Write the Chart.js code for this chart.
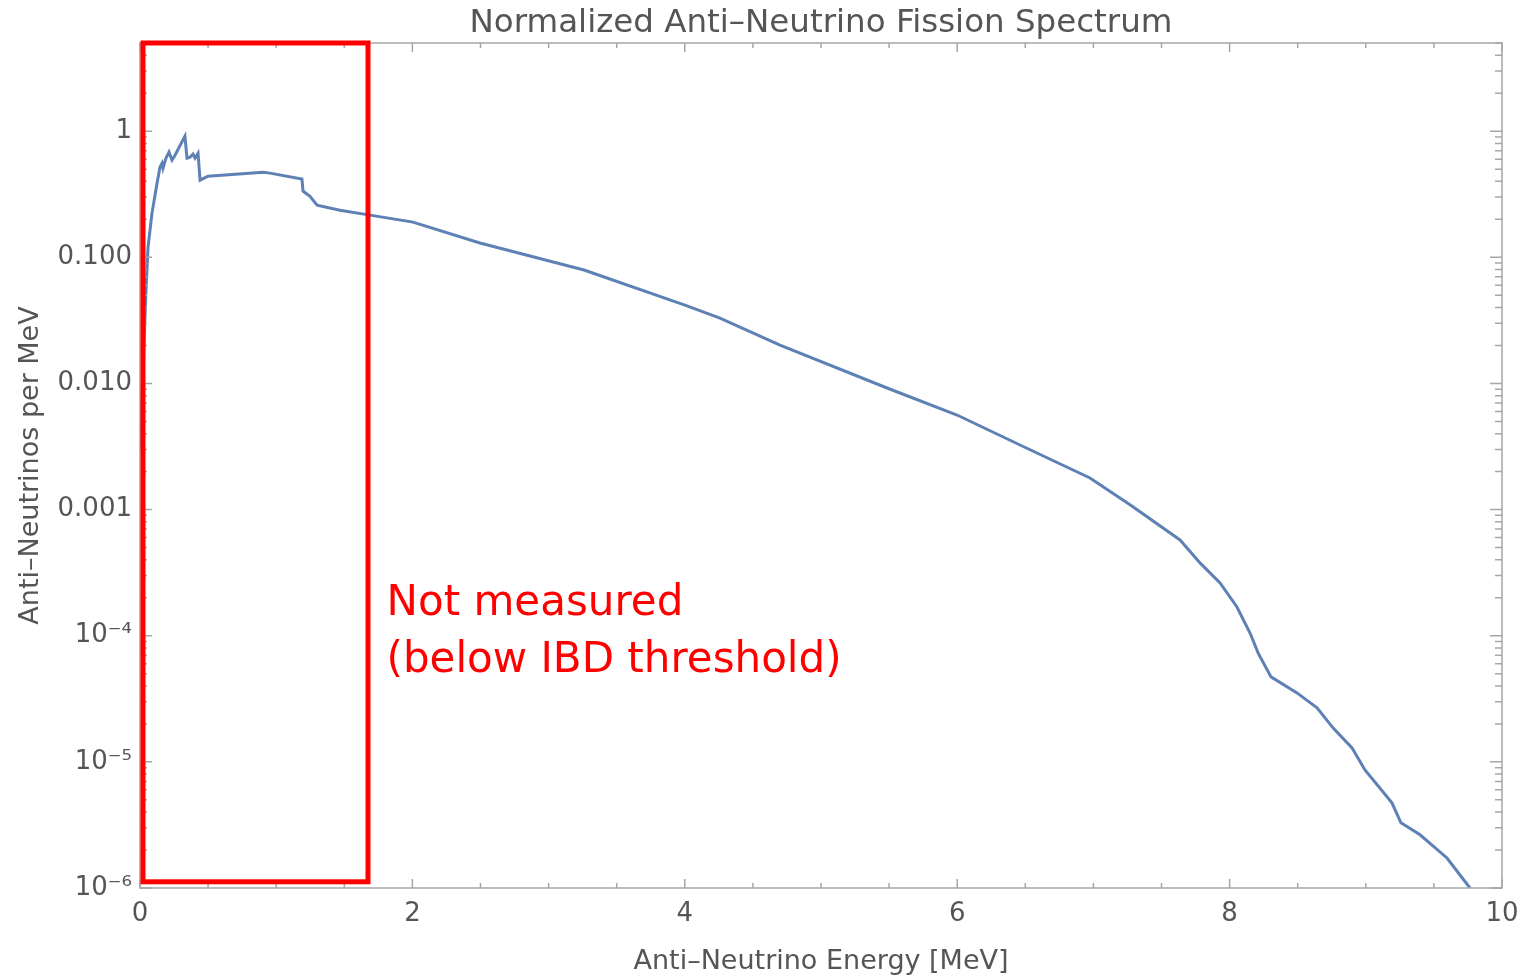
<!DOCTYPE html>
<html>
<head>
<meta charset="utf-8">
<script src="https://cdn.jsdelivr.net/npm/chart.js@4.4.0/dist/chart.umd.min.js"></script>
<style>
  html, body { margin: 0; padding: 0; background: #fff; }
  #wrap { width: 1526px; height: 978px; }
</style>
</head>
<body>
<div id="wrap"><canvas id="fissionSpectrum"></canvas></div>
<script>
// spectrum (MeV, anti-neutrinos per MeV)
var energy = [0.00, 0.044, 0.059, 0.088, 0.125, 0.147, 0.162, 0.169, 0.191, 0.213,
              0.235, 0.257, 0.330, 0.345, 0.367, 0.389, 0.404, 0.426, 0.441, 0.499,
              0.903, 0.954, 1.189, 1.197, 1.248, 1.300, 1.468, 1.689, 2.004, 2.496,
              3.260, 4.001, 4.258, 4.699, 5.485, 5.999, 6.461, 6.975, 7.269, 7.636,
              7.783, 7.930, 8.054, 8.150, 8.209, 8.304, 8.495, 8.642, 8.759, 8.899,
              8.994, 9.192, 9.258, 9.398, 9.596, 9.765];
var flux = [0.00297, 0.055, 0.120, 0.224, 0.387, 0.519, 0.557, 0.509, 0.611, 0.682,
            0.589, 0.645, 0.913, 0.611, 0.622, 0.658, 0.611, 0.669, 0.409, 0.440,
            0.473, 0.465, 0.417, 0.335, 0.305, 0.259, 0.236, 0.216, 0.190, 0.130,
            0.0793, 0.0418, 0.0330, 0.0201, 0.00920, 0.00562, 0.00325, 0.00178, 0.00109, 0.000574,
            0.000378, 0.000262, 0.000169, 0.000105, 7.31e-5, 4.72e-5, 3.52e-5, 2.68e-5, 1.86e-5, 1.29e-5,
            8.63e-6, 4.73e-6, 3.29e-6, 2.64e-6, 1.73e-6, 1.0e-6];

var yTicks = [1e-6, 1e-5, 1e-4, 1e-3, 1e-2, 1e-1, 1];
var yTickLabels = ["10\u207B\u2076", "10\u207B\u2075", "10\u207B\u2074", "0.001", "0.010", "0.100", "1"];
var xTicks = [0, 2, 4, 6, 8, 10];

// "not measured" region
var boxEnergy = [0.022, 1.674];
var boxFlux = [1.12e-6, 5];
var noteLines = ["Not measured", "(below IBD threshold)"];
var noteFlux = [1.46e-4, 5.16e-5];
var noteEnergy = 1.81;

var fontFamily = '"DejaVu Sans", "Liberation Sans", Arial, sans-serif';
var axisGray = '#555555';

function minorLogTicks() {
  var out = [];
  for (var d = 1e-6; d < 5; d *= 10) {
    for (var m = 2; m <= 9; m++) {
      if (d * m <= 5) out.push(d * m);
    }
  }
  return out;
}

var framePlugin = {
  id: 'frame',
  afterDatasetsDraw: function (chart) {
    var ctx = chart.ctx, a = chart.chartArea;
    var xs = chart.scales.x, ys = chart.scales.y;
    ctx.save();
    ctx.strokeStyle = '#a6a6a6';
    ctx.lineWidth = 1.5;
    ctx.strokeRect(a.left, a.top, a.right - a.left, a.bottom - a.top);
    ctx.beginPath();
    // x ticks, bottom and top, pointing inward
    for (var e = 0; e <= 10; e += 0.5) {
      var px = xs.getPixelForValue(e);
      var len = (e % 2 === 0) ? 9 : 5;
      ctx.moveTo(px, a.bottom); ctx.lineTo(px, a.bottom - len);
      ctx.moveTo(px, a.top); ctx.lineTo(px, a.top + len);
    }
    yTicks.forEach(function (v) {
      var py = ys.getPixelForValue(v);
      ctx.moveTo(a.left, py); ctx.lineTo(a.left + 12, py);
      ctx.moveTo(a.right, py); ctx.lineTo(a.right - 12, py);
    });
    minorLogTicks().forEach(function (v) {
      var py = ys.getPixelForValue(v);
      ctx.moveTo(a.left, py); ctx.lineTo(a.left + 7, py);
      ctx.moveTo(a.right, py); ctx.lineTo(a.right - 7, py);
    });
    ctx.stroke();
    ctx.restore();
  },
  afterDraw: function (chart) {
    var ctx = chart.ctx;
    var xs = chart.scales.x, ys = chart.scales.y;
    ctx.save();
    ctx.strokeStyle = '#ff0000';
    ctx.lineWidth = 5;
    var x0 = xs.getPixelForValue(boxEnergy[0]), x1 = xs.getPixelForValue(boxEnergy[1]);
    var y0 = ys.getPixelForValue(boxFlux[1]), y1 = ys.getPixelForValue(boxFlux[0]);
    ctx.strokeRect(x0, y0, x1 - x0, y1 - y0);
    ctx.fillStyle = '#ff0000';
    ctx.font = '42px ' + fontFamily;
    ctx.textBaseline = 'alphabetic';
    ctx.textAlign = 'left';
    noteLines.forEach(function (t, i) {
      ctx.fillText(t, xs.getPixelForValue(noteEnergy), ys.getPixelForValue(noteFlux[i]));
    });
    ctx.restore();
  }
};

var spectrumCanvas = document.getElementById("fissionSpectrum");
var spectrumConfig = {
  type: 'line',
  data: {
    datasets: [{
      label: 'Spectrum',
      data: energy.map(function (e, i) { return { x: e, y: flux[i] }; }),
      borderColor: '#5e81b5',
      borderWidth: 3,
      pointRadius: 0,
      tension: 0,
      fill: false
    }]
  },
  options: {
    responsive: true,
    maintainAspectRatio: false,
    animation: false,
    layout: { padding: { left: 0, right: 24, top: 0, bottom: 0 } },
    plugins: {
      legend: { display: false },
      tooltip: { enabled: false },
      title: {
        display: true,
        fullSize: false,
        text: 'Normalized Anti\u2013Neutrino Fission Spectrum',
        color: axisGray,
        font: { family: fontFamily, size: 32.5, weight: 'normal' },
        padding: { top: 4, bottom: 0 }
      }
    },
    scales: {
      x: {
        type: 'linear',
        min: 0,
        max: 10,
        afterBuildTicks: function (s) { s.ticks = xTicks.map(function (v) { return { value: v }; }); },
        afterFit: function (s) { s.height = 90; },
        grid: { display: false },
        border: { display: false },
        ticks: {
          color: axisGray,
          padding: 3,
          maxRotation: 0,
          font: { family: fontFamily, size: 26 },
          callback: function (v) { return String(v); }
        },
        title: {
          display: true,
          text: 'Anti\u2013Neutrino Energy [MeV]',
          color: axisGray,
          font: { family: fontFamily, size: 27 },
          padding: { top: 4, bottom: 0 }
        }
      },
      y: {
        type: 'logarithmic',
        min: 1e-6,
        max: 5,
        afterBuildTicks: function (s) { s.ticks = yTicks.map(function (v) { return { value: v }; }); },
        afterFit: function (s) { s.width = 140; },
        grid: { display: false },
        border: { display: false },
        ticks: {
          color: axisGray,
          padding: 0,
          font: { family: fontFamily, size: 26 },
          callback: function (v) {
            var i = yTicks.indexOf(v);
            return i >= 0 ? yTickLabels[i] : '';
          }
        },
        title: {
          display: true,
          text: 'Anti\u2013Neutrinos per MeV',
          color: axisGray,
          font: { family: fontFamily, size: 27 },
          padding: { top: 15, bottom: 0 }
        }
      }
    }
  },
  plugins: [framePlugin]
};
var spectrumChart = new Chart(spectrumCanvas, spectrumConfig);
</script>
</body>
</html>
